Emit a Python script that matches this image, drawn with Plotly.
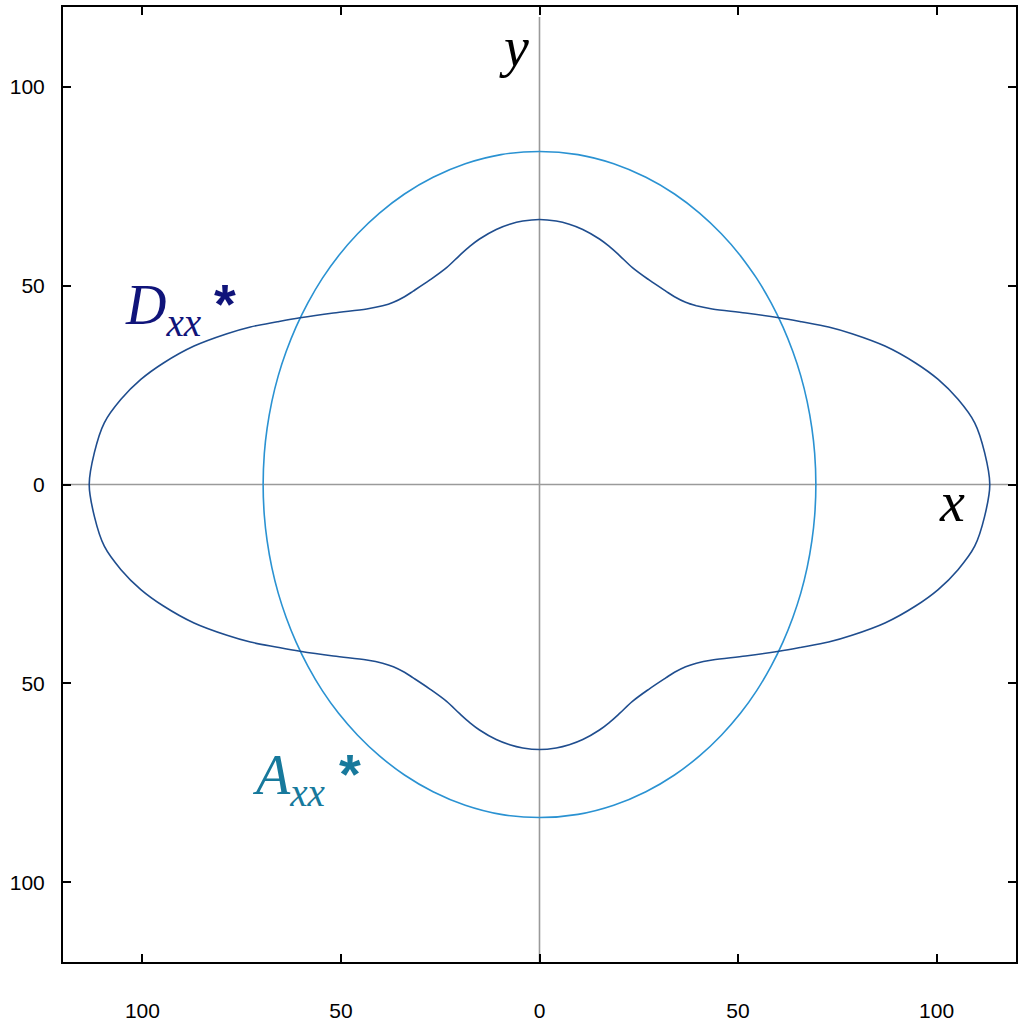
import plotly.graph_objects as go

# first-quadrant points (the curves are symmetric about both axes)
d_x = [113.4, 112.1, 109.6, 105.4, 100.4, 94.6, 87.0, 78.7, 72.8, 66.0, 60.3, 51.9, 43.5, 39.5, 36.8, 34.0, 31.8,
       27.6, 23.4, 20.1, 17.5, 15.1, 10.9, 7.5, 4.2, 0.0]
d_y = [0.0, 8.0, 15.5, 21.4, 26.4, 30.6, 34.8, 37.9, 39.6, 40.9, 41.9, 43.1, 44.1, 44.9, 45.8, 47.2, 48.6,
       51.4, 54.5, 57.6, 59.9, 61.7, 64.1, 65.4, 66.2, 66.6]

a_x = [69.6, 69.3, 68.6, 67.4, 65.8, 63.8, 61.3, 58.3, 54.7, 50.6, 45.8, 40.3, 34.0, 26.8, 18.7, 9.7, 0.0]
a_y = [0.0, 7.8, 14.1, 20.9, 27.3, 33.4, 39.6, 45.7, 51.8, 57.5, 63.0, 68.2, 73.0, 77.2, 80.6, 82.9, 83.7]

tick_vals = [-100, -50, 0, 50, 100]
tick_text = ["100", "50", "0", "50", "100"]


def full_curve(qx, qy):
    # Q1 -> Q2 -> Q3 -> Q4 without repeating the points on the axes
    ring = list(zip(qx, qy))
    ring += [(-x, y) for x, y in ring[::-1]][1:]
    ring += [(-x, -y) for x, y in zip(qx, qy)][1:]
    ring += [(x, -y) for x, y in list(zip(qx, qy))[::-1]][1:-1]
    # start mid-quadrant so the spline closes smoothly
    k = len(qx) // 2
    ring = ring[k:] + ring[:k + 2]
    return [p[0] for p in ring], [p[1] for p in ring]


dx, dy = full_curve(d_x, d_y)
ax_, ay_ = full_curve(a_x, a_y)

fig = go.Figure()
fig.add_trace(go.Scatter(x=ax_, y=ay_, mode="lines", line=dict(color="#2a92d2", width=1.6, shape="spline"),
                         hoverinfo="skip"))
fig.add_trace(go.Scatter(x=dx, y=dy, mode="lines", line=dict(color="#1f4d8e", width=1.6, shape="spline"),
                         hoverinfo="skip"))

# coordinate axes through the origin
fig.add_shape(type="line", x0=-120, x1=118, y0=0, y1=0, line=dict(color="#9a9a9a", width=1.6), layer="below")
fig.add_shape(type="line", x0=0, x1=0, y0=-120, y1=117.5, line=dict(color="#9a9a9a", width=1.6), layer="below")

serif = "Liberation Serif, Times New Roman, serif"
sans_b = "Liberation Sans, Arial, sans-serif"
D_COL, A_COL = "#10147a", "#17799c"
fig.add_annotation(x=-105, y=44, xanchor="left", yanchor="middle", showarrow=False,
                   text="<i>D<sub>xx</sub></i>", font=dict(family=serif, size=56, color=D_COL))
fig.add_annotation(x=-79.1, y=45.5, showarrow=False, text="<b>*</b>",
                   font=dict(family=sans_b, size=56, color=D_COL))
fig.add_annotation(x=-73, y=-74, xanchor="left", yanchor="middle", showarrow=False,
                   text="<i>A<sub>xx</sub></i>", font=dict(family=serif, size=56, color=A_COL))
fig.add_annotation(x=-47.7, y=-72.6, showarrow=False, text="<b>*</b>",
                   font=dict(family=sans_b, size=56, color=A_COL))
fig.add_annotation(x=-6.5, y=110, showarrow=False, text="<i>y</i>",
                   font=dict(family=serif, size=56, color="black"))
fig.add_annotation(x=104, y=-4.5, showarrow=False, text="<i>x</i>",
                   font=dict(family=serif, size=56, color="black"))

axis_common = dict(
    range=[-120, 120], tickvals=tick_vals, ticktext=tick_text,
    showgrid=False, zeroline=False, showline=True, linecolor="black", linewidth=2,
    mirror="ticks", ticks="inside", ticklen=8, tickwidth=2, tickcolor="black",
    tickfont=dict(family="Liberation Sans, Arial, sans-serif", size=21, color="black"),
    automargin=False,
)
fig.update_xaxes(**axis_common, ticklabelstandoff=29)
fig.update_yaxes(**axis_common, ticklabelstandoff=12)

fig.update_layout(
    width=1024, height=1026,
    margin=dict(l=63, r=8, t=7, b=64),
    paper_bgcolor="white", plot_bgcolor="white",
    showlegend=False,
)

fig.write_html("out.html", config={"displayModeBar": False},
               post_script="document.body.style.margin='0';")
